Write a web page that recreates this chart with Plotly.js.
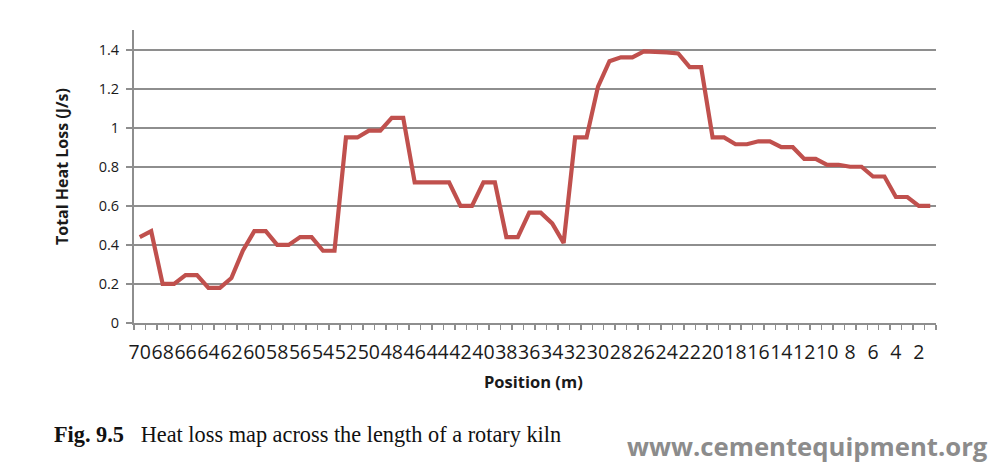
<!DOCTYPE html>
<html>
<head>
<meta charset="utf-8">
<script src="https://cdn.plot.ly/plotly-3.0.1.min.js"></script>
<style>
  html, body { margin: 0; padding: 0; background: #ffffff; }
  #chart { width: 997px; height: 464px; }
</style>
</head>
<body>
<div id="chart"></div>
<script>
// Position along the kiln (m), left to right as drawn
const positions = [70,69,68,67,66,65,64,63,62,61,60,59,58,57,56,55,54,53,52,51,
                   50,49,48,47,46,45,44,43,42,41,40,39,38,37,36,35,34,33,32,31,
                   30,29,28,27,26,25,24,23,22,21,20,19,18,17,16,15,14,13,12,11,
                   10,9,8,7,6,5,4,3,2,1];

// Total heat loss (J/s)
const heatLoss = [0.44,0.47,0.20,0.20,0.245,0.245,0.18,0.18,0.23,0.37,
                  0.47,0.47,0.40,0.40,0.44,0.44,0.37,0.37,0.95,0.95,
                  0.985,0.985,1.05,1.05,0.72,0.72,0.72,0.72,0.60,0.60,
                  0.72,0.72,0.44,0.44,0.565,0.565,0.51,0.41,0.95,0.95,
                  1.21,1.34,1.36,1.36,1.39,1.39,1.385,1.38,1.31,1.31,
                  0.95,0.95,0.915,0.915,0.93,0.93,0.90,0.90,0.84,0.84,
                  0.81,0.81,0.80,0.80,0.75,0.75,0.645,0.645,0.60,0.60];

// X tick labels (every second position)
const xTickVals = [70,68,66,64,62,60,58,56,54,52,50,48,46,44,42,40,38,36,34,32,
                   30,28,26,24,22,20,18,16,14,12,10,8,6,4,2];
const xTickText = ['70','68','66','64','62','60','58','56','54','52','50','48','46','44','42','40','38','36','34','32',
                   '30','28','26','24','22','20','18','16','14','12','10','8','6','4','2'];

// Y tick labels
const yTickVals = [0,0.2,0.4,0.6,0.8,1,1.2,1.4];
const yTickText = ['0','0.2','0.4','0.6','0.8','1','1.2','1.4'];

const axisGray = '#8e8e8e';

const trace = {
  x: positions,
  y: heatLoss,
  type: 'scatter',
  mode: 'lines',
  line: { color: '#C0504D', width: 4.2 },
  hoverinfo: 'skip'
};

const layout = {
  width: 997,
  height: 464,
  margin: { l: 134, r: 61, t: 30, b: 141 },
  paper_bgcolor: '#ffffff',
  plot_bgcolor: '#ffffff',
  showlegend: false,
  font: { family: 'Open Sans, Noto Sans, sans-serif', color: '#222222' },
  xaxis: {
    range: [70.5, 0.5],
    tickmode: 'array',
    tickvals: xTickVals,
    ticktext: xTickText,
    tickangle: 0,
    ticks: '',
    showgrid: false,
    zeroline: false,
    showline: true,
    linecolor: axisGray,
    linewidth: 2,
    tickfont: { size: 19.5, color: '#1a1a1a' },
    ticklabelstandoff: 11,
    minor: {
      tickmode: 'linear',
      tick0: 0.5,
      dtick: 1,
      ticks: 'outside',
      ticklen: 5,
      tickwidth: 1.5,
      tickcolor: axisGray,
      showgrid: false
    }
  },
  yaxis: {
    range: [0, 1.5],
    tickmode: 'array',
    tickvals: yTickVals,
    ticktext: yTickText,
    ticks: 'outside',
    ticklen: 6,
    tickwidth: 2,
    tickcolor: axisGray,
    showgrid: true,
    gridcolor: axisGray,
    gridwidth: 2,
    zeroline: false,
    showline: true,
    linecolor: axisGray,
    linewidth: 2,
    tickfont: { size: 14.5, color: '#1a1a1a' },
    ticklabelstandoff: 4
  },
  annotations: [
    {
      xref: 'paper', yref: 'paper',
      x: (62 - 134) / 802, y: (323 - 167) / 293,
      xanchor: 'center', yanchor: 'middle',
      textangle: -90,
      showarrow: false,
      text: '<b>Total Heat Loss (J/s)</b>',
      font: { size: 16, color: '#1a1a1a', family: 'Open Sans, sans-serif' }
    },
    {
      xref: 'paper', yref: 'paper',
      x: (533 - 134) / 802, y: (323 - 381) / 293,
      xanchor: 'center', yanchor: 'middle',
      showarrow: false,
      text: '<b>Position (m)</b>',
      font: { size: 16.5, color: '#1a1a1a', family: 'Open Sans, sans-serif' }
    },
    {
      xref: 'paper', yref: 'paper',
      x: (52 - 134) / 802, y: (323 - 434) / 293,
      xanchor: 'left', yanchor: 'middle',
      showarrow: false,
      text: '<b>Fig. 9.5</b>&nbsp;&nbsp;&nbsp;Heat loss map across the length of a rotary kiln',
      font: { size: 22.3, color: '#111111', family: 'Liberation Serif, Times New Roman, serif' }
    },
    {
      xref: 'paper', yref: 'paper',
      x: (990 - 134) / 802, y: (323 - 446) / 293,
      xanchor: 'right', yanchor: 'middle',
      showarrow: false,
      text: '<b>www.cementequipment.org</b>',
      font: { size: 25.7, color: '#8c8c8c', family: 'Open Sans, sans-serif' }
    }
  ]
};

Plotly.newPlot('chart', [trace], layout, { displayModeBar: false, staticPlot: true });
</script>
</body>
</html>
